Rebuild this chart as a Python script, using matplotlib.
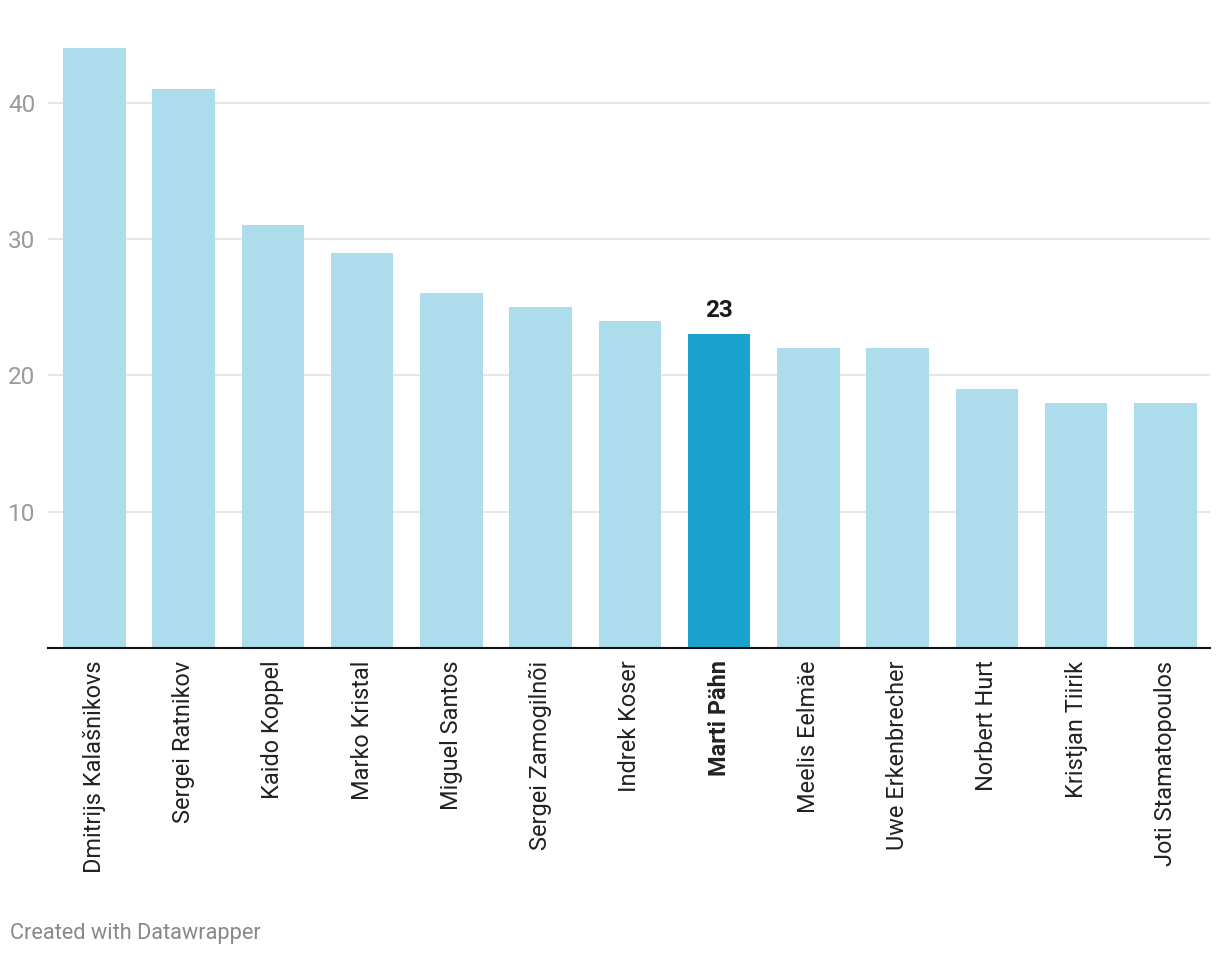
import matplotlib
matplotlib.use("Agg")
import matplotlib.pyplot as plt

plt.rcParams["font.family"] = ["Roboto", "DejaVu Sans"]

# data
names = ["Dmitrijs Kalašnikovs", "Sergei Ratnikov", "Kaido Koppel", "Marko Kristal",
         "Miguel Santos", "Sergei Zamogilnõi", "Indrek Koser", "Marti Pähn",
         "Meelis Eelmäe", "Uwe Erkenbrecher", "Norbert Hurt", "Kristjan Tiirik",
         "Joti Stamatopoulos"]
values = [44, 41, 31, 29, 26, 25, 24, 23, 22, 22, 19, 18, 18]
highlight = "Marti Pähn"
y_ticks = [10, 20, 30, 40]

light = "#addded"
dark = "#1aa3cf"

fig = plt.figure(figsize=(12.2, 9.58), dpi=100)
ax = fig.add_axes([48 / 1220, 1 - 648 / 958, (1210 - 48) / 1220, (648 - 48) / 958])

x = list(range(len(names)))
colors = [dark if n == highlight else light for n in names]
ax.bar(x, values, width=0.70, color=colors, zorder=2)

ax.set_xlim(-0.52, len(names) - 0.5)
ax.set_ylim(0, 44)

for t in y_ticks:
    ax.axhline(t, color="#e3e3e3", lw=1.2, zorder=1)
ax.set_yticks(y_ticks)
ax.set_yticklabels([str(t) for t in y_ticks], color="#9a9a9a", fontsize=17.5)
ax.tick_params(axis="y", length=0, pad=9)

ax.set_xticks(x)
ax.set_xticklabels(names, rotation=90, fontsize=16.9, color="#222222")
ax.tick_params(axis="x", length=0, pad=9)
for lbl in ax.get_xticklabels():
    if lbl.get_text() == highlight:
        lbl.set_fontweight("bold")

for s in ["top", "right", "left"]:
    ax.spines[s].set_visible(False)
ax.spines["bottom"].set_color("#111111")
ax.spines["bottom"].set_linewidth(1.5)
ax.spines["bottom"].set_zorder(3)

i = names.index(highlight)
ax.annotate(str(values[i]), (i, values[i]), xytext=(0, 9), textcoords="offset points",
            ha="center", va="bottom", fontsize=17.5, fontweight="bold", color="#1a1a1a")

fig.text(10 / 1220, 1 - 934 / 958, "Created with Datawrapper", fontsize=15.7,
         color="#888888", ha="left", va="center")

fig.savefig("out.png", dpi=100)
